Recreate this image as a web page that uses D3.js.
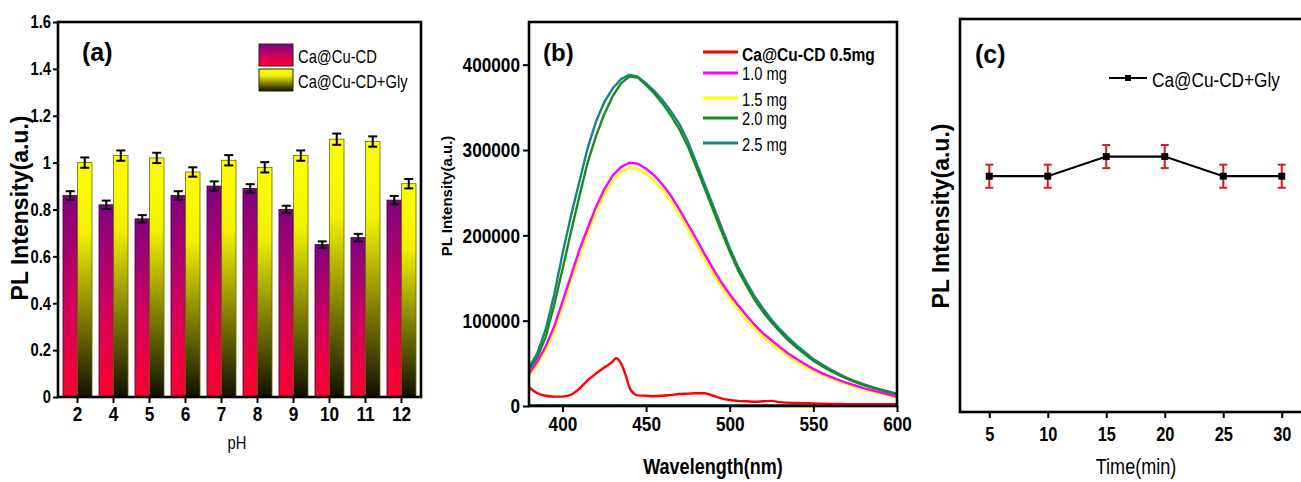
<!DOCTYPE html>
<html><head><meta charset="utf-8">
<script src="https://cdn.jsdelivr.net/npm/d3@7"></script>
<style>body{margin:0;background:#fff} svg{display:block}</style>
</head><body>
<svg id="c" width="1301" height="482"></svg>
<script>
// ---------- Panel (a) data ----------
const phLabels = ["2","4","5","6","7","8","9","10","11","12"];
const cuCD      = [0.86,0.82,0.76,0.86,0.90,0.89,0.80,0.65,0.68,0.84];
const cuCDErr   = [0.018,0.018,0.016,0.018,0.02,0.018,0.016,0.014,0.016,0.018];
const cuCDGly   = [1.00,1.03,1.02,0.96,1.01,0.98,1.03,1.10,1.09,0.91];
const cuCDGlyErr= [0.022,0.022,0.022,0.02,0.022,0.022,0.022,0.024,0.022,0.02];
const yTicksA   = [0,0.2,0.4,0.6,0.8,1.0,1.2,1.4,1.6];
const legendA   = ["Ca@Cu-CD","Ca@Cu-CD+Gly"];

// ---------- Panel (b) data ----------
const wl = [380,385,390,395,400,405,410,415,420,425,430,435,440,445,450,455,460,465,470,475,480,485,490,495,500,505,510,515,520,525,530,535,540,545,550,555,560,565,570,575,580,585,590,595,600];
const mg25 = [45000,62000,90000,130000,178000,222000,262000,302000,333000,356000,372000,383000,388000,386000,378000,369000,358000,345000,330000,310000,285000,260000,235000,210000,185000,163000,145000,128000,114000,101000,90000,80000,71000,63000,55000,49000,43000,38000,33000,29000,25500,22500,19500,17000,14500];
const mg20 = [42000,57000,81000,118000,160000,203000,245000,285000,316000,342000,363000,378000,386000,385000,376000,366000,354000,340000,324000,304000,280000,255000,230000,205000,181000,159000,141000,124000,110000,98000,87000,77000,68500,60500,53000,47000,41500,36500,32000,28000,24500,21500,18500,16000,13500];
const mg10 = [38000,52000,70000,93000,122000,152000,182000,208000,233000,254000,270000,280000,285000,284000,278000,270000,259000,246000,230000,213000,196000,178000,161000,145000,131000,118000,106000,95000,85000,77000,69000,61500,55000,49000,43500,38500,34500,30500,27000,24000,21000,18500,16000,13500,11000];
const mg15 = [35000,48000,66000,88000,116000,146000,176000,202000,227000,248000,264000,274000,279000,278000,272000,264000,253000,240000,224000,207000,190000,172000,155000,140000,126000,113000,101000,91000,81000,73000,65500,58500,52000,46500,41500,37000,33000,29000,25500,22500,19500,17000,14500,12000,10000];
const wlRed = [380,385,390,395,400,405,410,415,420,425,430,432,435,438,440,443,445,450,455,460,465,470,475,480,485,490,495,500,505,510,515,520,525,530,540,550,560,570,580,590,600];
const mg05  = [22000,15000,12000,11000,11000,13000,20000,30000,38000,45000,52000,56000,50000,35000,22000,14000,12500,12000,11500,12000,13000,14000,14500,15000,15000,12000,9000,7000,6000,5500,5000,5500,6000,4500,3500,3000,2500,2200,2000,2000,2000];
const wlBase = [380,600];
const baseline25 = [1200,1200];
const xTicksB = [400,450,500,550,600];
const yTicksB = [0,100000,200000,300000,400000];
const legendB = ["Ca@Cu-CD 0.5mg","1.0 mg","1.5 mg","2.0 mg","2.5 mg"];
const colorsB = ["#ff0000","#ff00ff","#ffff00","#1e8a1e","#128585"];

// ---------- Panel (c) data ----------
const timeMin = [5,10,15,20,25,30];
const glyVals = [0.96,0.96,1.04,1.04,0.96,0.96];
const glyErr  = [0.047,0.047,0.047,0.047,0.047,0.047];
const xTicksC = [5,10,15,20,25,30];
const legendC = "Ca@Cu-CD+Gly";

const SANS = "'Liberation Sans',Arial,sans-serif";
const NX = 0.82; // horizontal condensing factor

const svg = d3.select("#c");
const defs = svg.append("defs");
function grad(id, stops){
  const g = defs.append("linearGradient").attr("id",id).attr("x1",0).attr("y1",0).attr("x2",0).attr("y2",1);
  stops.forEach(s=>g.append("stop").attr("offset",s[0]).attr("stop-color",s[1]));
}
grad("gP",[["0%","#800080"],["50%","#cc0060"],["100%","#ff0030"]]);
grad("gY",[["0%","#ffff00"],["30%","#f2f200"],["100%","#101000"]]);

function ntext(x,y,str,size,weight,anchor){
  return svg.append("text").attr("transform",`translate(${x},${y}) scale(${NX},1)`)
    .attr("text-anchor",anchor||"start").attr("fill","#000")
    .style("font-family",SANS).style("font-size",size+"px").style("font-weight",weight||"normal").text(str);
}
function styleAxis(g, size){
  g.select(".domain").remove();
  g.selectAll(".tick line").attr("stroke","#000").attr("stroke-width",2);
  g.selectAll(".tick text").each(function(){
    const t = d3.select(this);
    const x = +t.attr("x") || 0;
    t.attr("x", x/NX).attr("transform",`scale(${NX},1)`);
  }).attr("fill","#000").style("font-family",SANS).style("font-size",size+"px").style("font-weight","bold");
}
function frame(x0,y0,x1,y1){
  svg.append("rect").attr("x",x0).attr("y",y0).attr("width",x1-x0).attr("height",y1-y0)
    .attr("fill","none").attr("stroke","#000").attr("stroke-width",2.6);
}

// ================= Panel (a) =================
const xA = d3.scaleBand().domain(phLabels).range([58,421]).paddingInner(0.194).paddingOuter(0.139);
const xSub = d3.scaleBand().domain([0,1]).range([0,xA.bandwidth()]);
const yA = d3.scaleLinear().domain([0,1.6]).range([397,22]);

const gA = svg.append("g");
const seriesA = [cuCD, cuCDGly];
const errA = [cuCDErr, cuCDGlyErr];
const fillA = ["url(#gP)","url(#gY)"];
const strokeA = ["#3a0030","#6a6a00"];
seriesA.forEach((vals,si)=>{
  gA.selectAll(null).data(vals).enter().append("rect")
    .attr("x",(d,i)=>xA(phLabels[i])+xSub(si))
    .attr("y",d=>yA(d)).attr("width",xSub.bandwidth()).attr("height",d=>yA(0)-yA(d))
    .attr("fill",fillA[si]).attr("stroke",strokeA[si]).attr("stroke-width",0.8);
});
seriesA.forEach((vals,si)=>{
  vals.forEach((v,i)=>{
    const cx = xA(phLabels[i])+xSub(si)+xSub.bandwidth()/2;
    const e = errA[si][i];
    gA.append("line").attr("x1",cx).attr("x2",cx).attr("y1",yA(v-e)).attr("y2",yA(v+e)).attr("stroke","#000").attr("stroke-width",2);
    [v-e,v+e].forEach(t=>gA.append("line").attr("x1",cx-4.5).attr("x2",cx+4.5).attr("y1",yA(t)).attr("y2",yA(t)).attr("stroke","#000").attr("stroke-width",2));
  });
});
frame(58,22,421,397);
svg.append("g").attr("transform","translate(58,0)")
  .call(d3.axisLeft(yA).tickValues(yTicksA).tickFormat(d3.format("~g")).tickSize(5).tickPadding(2))
  .call(g=>styleAxis(g,18));
svg.append("g").attr("transform","translate(0,397)")
  .call(d3.axisBottom(xA).tickSize(6).tickPadding(3))
  .call(g=>styleAxis(g,21));
ntext(237,449,"pH",18,"normal","middle");
svg.append("text").attr("transform","translate(28,208) rotate(-90)").attr("text-anchor","middle")
  .style("font-family",SANS).style("font-size","23px").style("font-weight","bold").text("PL Intensity(a.u.)");
svg.append("text").attr("x",82).attr("y",61).style("font-family",SANS).style("font-size","25px").style("font-weight","bold").text("(a)");
legendA.forEach((t,i)=>{
  svg.append("rect").attr("x",259).attr("y",44+25*i).attr("width",34).attr("height",22)
    .attr("fill",fillA[i]).attr("stroke","#222").attr("stroke-width",1);
  ntext(298,63+25*i,t,18);
});

// ================= Panel (b) =================
const xB = d3.scaleLinear().domain([380,600]).range([529,897]);
const yB = d3.scaleLinear().domain([0,450000]).range([406,22]);
const lineB = d3.line().x(d=>xB(d[0])).y(d=>yB(d[1]));
const zip = (a,b)=>a.map((v,i)=>[v,b[i]]);
const gB = svg.append("g");
gB.append("path").datum(zip(wlBase,baseline25)).attr("d",lineB).attr("fill","none").attr("stroke",colorsB[4]).attr("stroke-width",2);
[[mg25,4],[mg20,3],[mg15,2],[mg10,1]].forEach(([arr,ci])=>{
  gB.append("path").datum(zip(wl,arr)).attr("d",lineB).attr("fill","none").attr("stroke",colorsB[ci]).attr("stroke-width",2.4).attr("stroke-linejoin","round");
});
gB.append("path").datum(zip(wlRed,mg05)).attr("d",lineB.curve(d3.curveMonotoneX)).attr("fill","none").attr("stroke",colorsB[0]).attr("stroke-width",2.4);
frame(529,22,897,406);
svg.append("g").attr("transform","translate(529,0)")
  .call(d3.axisLeft(yB).tickValues(yTicksB).tickFormat(d3.format("d")).tickSize(6).tickPadding(3))
  .call(g=>styleAxis(g,21));
svg.append("g").attr("transform","translate(0,406)")
  .call(d3.axisBottom(xB).tickValues(xTicksB).tickSize(6).tickPadding(4))
  .call(g=>styleAxis(g,21));
ntext(713,474,"Wavelength(nm)",22,"bold","middle");
svg.append("text").attr("transform","translate(452,196) rotate(-90)").attr("text-anchor","middle")
  .style("font-family",SANS).style("font-size","15px").style("font-weight","bold").text("PL Intensity(a.u.)");
svg.append("text").attr("x",543).attr("y",61).style("font-family",SANS).style("font-size","24px").style("font-weight","bold").text("(b)");
const legYLine = [52,73,98,118,143];
const legYText = [61,80,106,125,151];
legendB.forEach((t,i)=>{
  svg.append("line").attr("x1",703).attr("x2",738).attr("y1",legYLine[i]).attr("y2",legYLine[i]).attr("stroke",colorsB[i]).attr("stroke-width",3.2);
  ntext(742,legYText[i],t,i===0?19:18,i===0?"bold":"normal");
});

// ================= Panel (c) =================
const xC = d3.scaleLinear().domain([2.5,32.5]).range([960,1311]);
const yC = d3.scaleLinear().domain([0,1.6]).range([412,19]);
const gC = svg.append("g");
gC.append("path").datum(zip(timeMin,glyVals)).attr("d",d3.line().x(d=>xC(d[0])).y(d=>yC(d[1])))
  .attr("fill","none").attr("stroke","#000").attr("stroke-width",2.2);
timeMin.forEach((t,i)=>{
  const cx = xC(t), v = glyVals[i], e = glyErr[i];
  gC.append("line").attr("x1",cx).attr("x2",cx).attr("y1",yC(v-e)).attr("y2",yC(v+e)).attr("stroke","#e8141e").attr("stroke-width",2);
  [v-e,v+e].forEach(q=>gC.append("line").attr("x1",cx-4).attr("x2",cx+4).attr("y1",yC(q)).attr("y2",yC(q)).attr("stroke","#e8141e").attr("stroke-width",2));
  gC.append("rect").attr("x",cx-3.5).attr("y",yC(v)-3.5).attr("width",7).attr("height",7).attr("fill","#000");
});
frame(960,19,1311,412);
svg.append("g").attr("transform","translate(0,412)")
  .call(d3.axisBottom(xC).tickValues(xTicksC).tickSize(6).tickPadding(9))
  .call(g=>styleAxis(g,20));
ntext(1136,474,"Time(min)",22,"normal","middle");
svg.append("text").attr("transform","translate(949,216) rotate(-90)").attr("text-anchor","middle")
  .style("font-family",SANS).style("font-size","23px").style("font-weight","bold").text("PL Intensity(a.u.)");
svg.append("text").attr("x",975).attr("y",63).style("font-family",SANS).style("font-size","25px").style("font-weight","bold").text("(c)");
svg.append("line").attr("x1",1109).attr("x2",1147).attr("y1",78).attr("y2",78).attr("stroke","#000").attr("stroke-width",2.2);
svg.append("rect").attr("x",1125).attr("y",75).attr("width",6).attr("height",6).attr("fill","#000");
ntext(1152,87,legendC,21);
</script>
</body></html>
